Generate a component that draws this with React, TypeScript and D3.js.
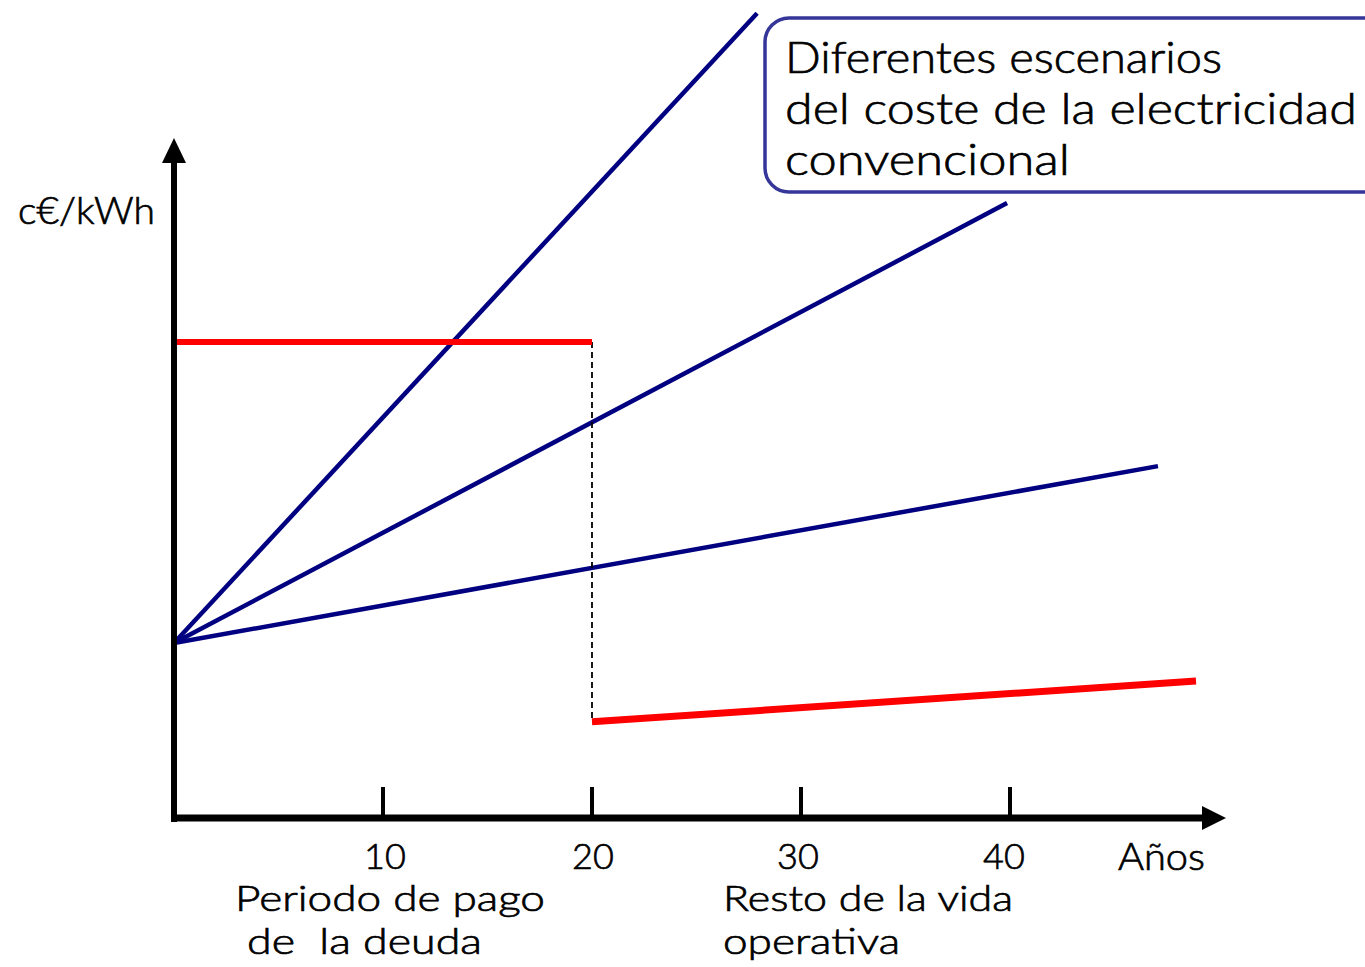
import React from "react";
import * as d3 from "d3";

// ---- data (years, c€/kWh in arbitrary chart units) ----
const tickYears = [10, 20, 30, 40];
const tickLabels = ["10", "20", "30", "40"];
const scenarioHigh = [[0, 2.58], [27.9, 11.87]];
const scenarioMid = [[0, 2.58], [39.86, 9.07]];
const scenarioLow = [[0, 2.58], [47.08, 5.19]];
const debtPeriodCost = [[0, 7.02], [20, 7.02]];
const afterDebtCost = [[20, 1.42], [48.9, 2.02]];
const boxLines = ["Diferentes escenarios", "del coste de la electricidad", "convencional"];

const W = 1365;
const H = 967;
const FONT = "Lato, 'DejaVu Sans', sans-serif";

export default function App() {
  const x = d3.scaleLinear().domain([0, 40]).range([174, 1010]);
  const y = d3.scaleLinear().domain([0, 10]).range([818, 140]);
  const line = d3
    .line<number[]>()
    .x((d) => x(d[0]))
    .y((d) => y(d[1]));

  const x0 = x(0);
  const y0 = y(0);
  const navy = "#000080";
  const red = "#ff0000";

  const tickOffsets = [2, 1, -3, -6];
  const boxBaselines = [73, 124, 175];
  const boxWidths = [437, 572, 285];

  return (
    <svg
      width={W}
      height={H}
      style={{ position: "absolute", left: 0, top: 0, background: "#fff" }}
    >
      <rect width={W} height={H} fill="#fff" />

      {/* annotation box */}
      <rect x={765} y={18} width={720} height={174} rx={24} ry={24} fill="none" stroke="#36369a" strokeWidth={3.5} />

      {/* blue scenarios */}
      {[scenarioHigh, scenarioMid, scenarioLow].map((d, i) => (
        <path key={i} d={line(d) || ""} fill="none" stroke={navy} strokeWidth={4.5} strokeLinecap="butt" />
      ))}

      {/* dashed vertical */}
      <line
        x1={x(20)}
        x2={x(20)}
        y1={y(debtPeriodCost[1][1])}
        y2={y(afterDebtCost[0][1])}
        stroke="#000"
        strokeWidth={1.8}
        strokeDasharray="6,4"
      />

      {/* red costs */}
      <path d={line(debtPeriodCost) || ""} fill="none" stroke={red} strokeWidth={6} />
      <path d={line(afterDebtCost) || ""} fill="none" stroke={red} strokeWidth={7} />

      {/* axes */}
      <line x1={x0} x2={x0} y1={y0 + 4} y2={162} stroke="#000" strokeWidth={6} />
      <path d={`M${x0 - 12},163 L${x0},138 L${x0 + 12},163 Z`} fill="#000" />
      <line x1={x0 - 3} x2={1204} y1={y0} y2={y0} stroke="#000" strokeWidth={7} />
      <path d={`M1202,${y0 - 12} L1226,${y0} L1202,${y0 + 12} Z`} fill="#000" />

      {tickYears.map((v) => (
        <line key={v} x1={x(v)} x2={x(v)} y1={y0 - 31} y2={y0} stroke="#000" strokeWidth={4} />
      ))}

      <g fontFamily={FONT} fontWeight={300} fill="#000" stroke="#000" strokeWidth={0.7}>
        {boxLines.map((t, i) => (
          <text
            key={t}
            x={785}
            y={boxBaselines[i]}
            fontSize={43}
            textLength={boxWidths[i]}
            lengthAdjust="spacingAndGlyphs"
          >
            {t}
          </text>
        ))}
        {tickYears.map((v, i) => (
          <text key={"t" + v} x={x(v) + tickOffsets[i]} y={869} fontSize={36} textAnchor="middle">
            {tickLabels[i]}
          </text>
        ))}
        <text x={18} y={224} fontSize={37} textLength={137} lengthAdjust="spacingAndGlyphs">
          c€/kWh
        </text>
        <text x={1118} y={870} fontSize={38} textLength={87} lengthAdjust="spacingAndGlyphs">
          Años
        </text>
        <text x={235} y={911} fontSize={36} textLength={310} lengthAdjust="spacingAndGlyphs">
          Periodo de pago
        </text>
        <text x={247} y={954} fontSize={36} textLength={235} lengthAdjust="spacingAndGlyphs" style={{ whiteSpace: "pre" }}>
          {"de  la deuda"}
        </text>
        <text x={723} y={911} fontSize={36} textLength={290} lengthAdjust="spacingAndGlyphs">
          Resto de la vida
        </text>
        <text x={723} y={954} fontSize={36} textLength={177} lengthAdjust="spacingAndGlyphs">
          operativa
        </text>
      </g>
    </svg>
  );
}
